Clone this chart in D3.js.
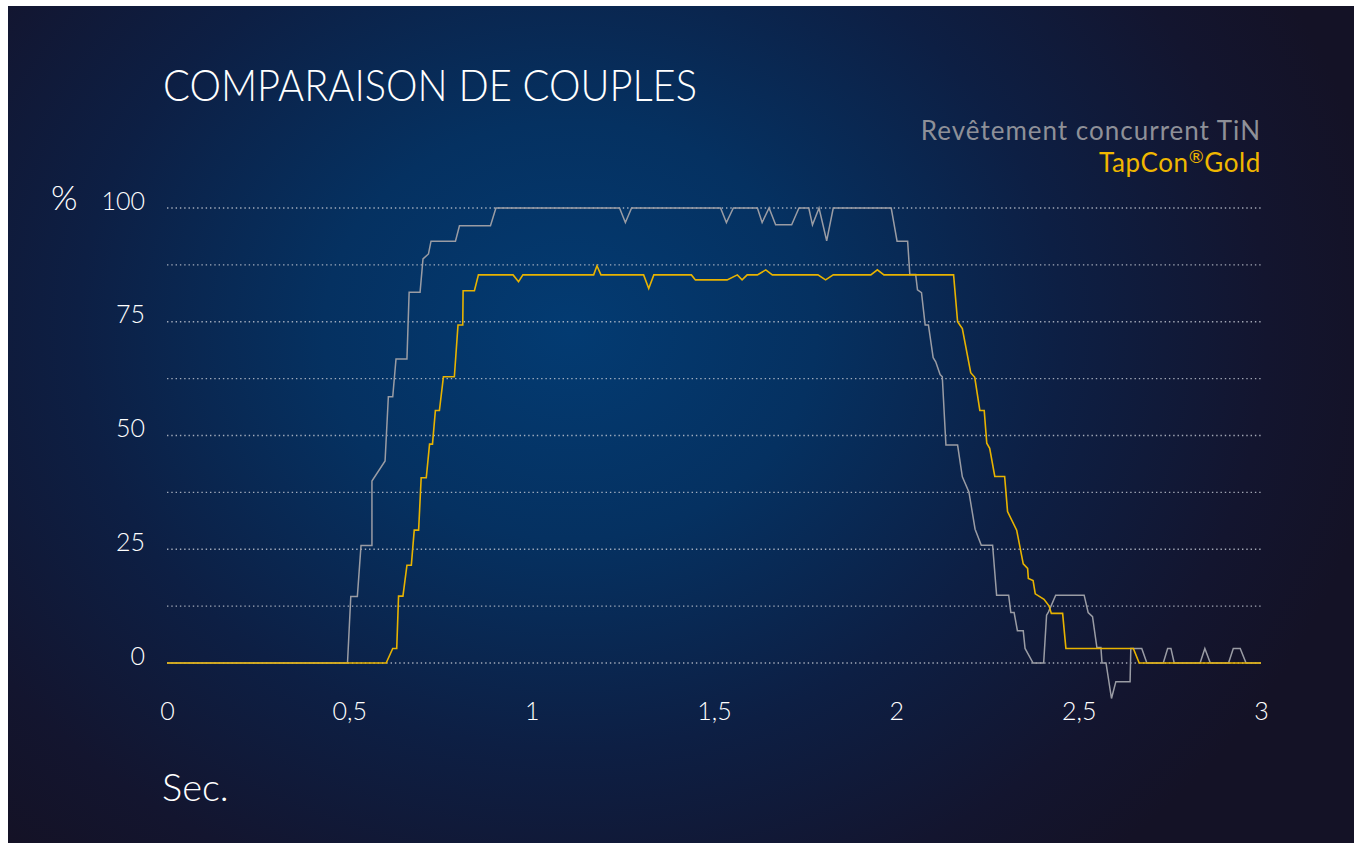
<!DOCTYPE html>
<html>
<head>
<meta charset="utf-8">
<script src="https://cdn.jsdelivr.net/npm/d3@7"></script>
<style>
  html, body { margin: 0; padding: 0; background: #ffffff; }
  text { font-family: Lato, "Open Sans", sans-serif; }
</style>
</head>
<body>
<script>
var svgWidth = 1356;
var svgHeight = 843;

// chart texts
var chartTitle = "COMPARAISON DE COUPLES";
var seriesNames = ["Revêtement concurrent TiN", "TapCon"];
var xTickValues = [0, 0.5, 1, 1.5, 2, 2.5, 3];
var yTickValues = [0, 25, 50, 75, 100];
var yGridValues = [0, 12.5, 25, 37.5, 50, 62.5, 75, 87.5, 100];

// time (s) of every point
var tinTime = [0, 0.495, 0.504, 0.522, 0.532, 0.562, 0.562, 0.598, 0.607, 0.619, 0.628, 0.658,
  0.664, 0.694, 0.702, 0.717, 0.724, 0.791, 0.802, 0.887, 0.902, 1.241, 1.257, 1.274, 1.518,
  1.534, 1.553, 1.619, 1.632, 1.651, 1.669, 1.713, 1.733, 1.760, 1.770, 1.788, 1.809, 1.827,
  1.986, 2.002, 2.031, 2.037, 2.053, 2.058, 2.069, 2.079, 2.088, 2.101, 2.108, 2.120, 2.126,
  2.136, 2.168, 2.181, 2.199, 2.216, 2.233, 2.264, 2.275, 2.308, 2.314, 2.323, 2.332, 2.348,
  2.353, 2.375, 2.404, 2.412, 2.417, 2.437, 2.515, 2.526, 2.538, 2.550, 2.561, 2.564, 2.575,
  2.590, 2.602, 2.641, 2.643, 2.673, 2.687, 2.732, 2.744, 2.753, 2.762, 2.833, 2.846, 2.861,
  2.911, 2.924, 2.943, 2.959, 3];
var tinValue = [0, 0, 14.6, 14.6, 25.8, 25.8, 40, 44.4, 58.5, 58.5, 66.8, 66.8,
  81.5, 81.5, 88.8, 89.9, 92.7, 92.7, 96.1, 96.1, 100, 100, 96.8, 100, 100,
  96.8, 100, 100, 96.8, 100, 96.3, 96.3, 100, 100, 96.3, 100, 92.8, 100,
  100, 92.7, 92.7, 85.4, 85.4, 82, 81.4, 74.3, 74.3, 67.1, 66.2, 63.4, 62.9,
  47.9, 47.9, 40.9, 37.6, 29.4, 25.9, 25.9, 14.9, 14.9, 11.1, 11.1, 7.1, 7.1,
  3.2, 0, 0, 10.5, 11.2, 14.9, 14.9, 11.1, 10.2, 3.4, 3.4, 0, 0,
  -7.8, -4.1, -4.1, 3.2, 3.2, 0, 0, 3.2, 3.2, 0, 0, 3.2, 0,
  0, 3.2, 3.2, 0, 0];

var goldTime = [0, 0.601, 0.619, 0.630, 0.635, 0.647, 0.658, 0.670, 0.678, 0.690, 0.697, 0.711,
  0.720, 0.728, 0.736, 0.747, 0.758, 0.788, 0.798, 0.811, 0.812, 0.843, 0.854, 0.949, 0.964,
  0.976, 1.170, 1.179, 1.190, 1.307, 1.321, 1.335, 1.438, 1.449, 1.536, 1.564, 1.577, 1.591,
  1.619, 1.642, 1.660, 1.785, 1.806, 1.827, 1.930, 1.948, 1.966, 2.157, 2.168, 2.181, 2.204,
  2.215, 2.229, 2.241, 2.248, 2.256, 2.270, 2.297, 2.305, 2.330, 2.348, 2.360, 2.362, 2.375,
  2.381, 2.405, 2.419, 2.425, 2.456, 2.465, 2.650, 2.666, 3];
var goldValue = [0, 0, 3.2, 3.2, 14.7, 14.7, 21.5, 21.5, 29.2, 29.2, 40.7, 40.7,
  48.1, 48.1, 55.5, 55.5, 62.9, 62.9, 74.3, 74.3, 81.8, 81.8, 85.3, 85.3, 83.8,
  85.3, 85.3, 87.3, 85.3, 85.3, 82.3, 85.3, 85.3, 84.2, 84.2, 85.3, 84.2, 85.3,
  85.3, 86.4, 85.3, 85.3, 84.2, 85.3, 85.3, 86.4, 85.3, 85.3, 75, 73.5, 63.8,
  62.8, 55.5, 55.5, 48.3, 47.2, 41, 41, 33.3, 29.2, 21.8, 20.8, 18.6, 18.1,
  15.2, 14, 12.5, 10.9, 10.9, 3.2, 3.2, 0, 0];

var svg = d3.select("body")
  .append("svg")
  .attr("width", svgWidth)
  .attr("height", svgHeight);

// background with a blue glow in the middle
var defs = svg.append("defs");
var grad = defs.append("radialGradient")
  .attr("id", "bg")
  .attr("gradientUnits", "userSpaceOnUse")
  .attr("cx", 570).attr("cy", 330).attr("r", 820)
  .attr("gradientTransform", "translate(570,330) scale(1,0.85) translate(-570,-330)");
grad.append("stop").attr("offset", "0").attr("stop-color", "#033b72");
grad.append("stop").attr("offset", "0.3").attr("stop-color", "#053161");
grad.append("stop").attr("offset", "0.6").attr("stop-color", "#0d1f44");
grad.append("stop").attr("offset", "0.85").attr("stop-color", "#13152f");
grad.append("stop").attr("offset", "1").attr("stop-color", "#141226");

svg.append("rect")
  .attr("x", 8).attr("y", 6)
  .attr("width", 1346).attr("height", 837)
  .attr("fill", "url(#bg)");

var x = d3.scaleLinear().domain([0, 3]).range([167, 1261]);
var y = d3.scaleLinear().domain([0, 100]).range([663, 208]);

// dotted grid
svg.append("g")
  .selectAll("line")
  .data(yGridValues)
  .enter().append("line")
  .attr("x1", x(0)).attr("x2", x(3))
  .attr("y1", function(d) { return y(d); })
  .attr("y2", function(d) { return y(d); })
  .attr("stroke", "#c8ccd6")
  .attr("stroke-opacity", 0.8)
  .attr("stroke-width", 1.4)
  .attr("stroke-dasharray", "1.4,2.9");

// axes
var fmt = function(d) { return String(d).replace(".", ","); };

var bottomAxis = d3.axisBottom(x).tickValues(xTickValues).tickSize(0).tickFormat(fmt);
var gx = svg.append("g")
  .attr("transform", "translate(0,699)")
  .call(bottomAxis);
gx.select(".domain").remove();
gx.selectAll("text")
  .attr("fill", "#ffffff")
  .attr("font-size", 25)
  .attr("font-weight", 300)
  .attr("font-family", "Lato, sans-serif");

var leftAxis = d3.axisLeft(y).tickValues(yTickValues).tickSize(0).tickPadding(0);
var gy = svg.append("g")
  .attr("transform", "translate(145,-7)")
  .call(leftAxis);
gy.select(".domain").remove();
gy.selectAll("text")
  .attr("fill", "#ffffff")
  .attr("font-size", 25)
  .attr("font-weight", 300)
  .attr("font-family", "Lato, sans-serif");

svg.append("text")
  .attr("x", 51).attr("y", 210)
  .attr("fill", "#ffffff")
  .attr("font-size", 34)
  .attr("font-weight", 300)
  .text("%");

svg.append("text")
  .attr("x", 162).attr("y", 801)
  .attr("fill", "#ffffff")
  .attr("font-size", 38)
  .attr("font-weight", 300)
  .text("Sec.");

// title and legend
svg.append("text")
  .attr("x", 163).attr("y", 101)
  .attr("fill", "#ffffff")
  .attr("font-size", 43)
  .attr("font-weight", 300)
  .attr("textLength", 534)
  .attr("lengthAdjust", "spacingAndGlyphs")
  .text(chartTitle);

var legendColors = ["#8e9098", "#f0b700"];
svg.append("text")
  .attr("x", 1261).attr("y", 140)
  .attr("text-anchor", "end")
  .attr("font-size", 26)
  .attr("letter-spacing", 1)
  .attr("fill", legendColors[0])
  .text(seriesNames[0]);

var gold = svg.append("text")
  .attr("x", 1261).attr("y", 172)
  .attr("text-anchor", "end")
  .attr("font-size", 26)
  .attr("letter-spacing", 0.6)
  .attr("fill", legendColors[1]);
gold.append("tspan").text(seriesNames[1]);
gold.append("tspan").attr("font-size", 18).attr("dy", -9).text("®");
gold.append("tspan").attr("dy", 9).text("Gold");

// lines
var line = d3.line()
  .x(function(d) { return x(d[0]); })
  .y(function(d) { return y(d[1]); });

var tinData = d3.zip(tinTime, tinValue);
var goldData = d3.zip(goldTime, goldValue);

svg.append("path")
  .datum(tinData)
  .attr("d", line)
  .attr("fill", "none")
  .attr("stroke", "#9a9ca4")
  .attr("stroke-width", 1.5);

svg.append("path")
  .datum(goldData)
  .attr("d", line)
  .attr("fill", "none")
  .attr("stroke", "#e8b300")
  .attr("stroke-width", 1.6);
</script>
</body>
</html>
